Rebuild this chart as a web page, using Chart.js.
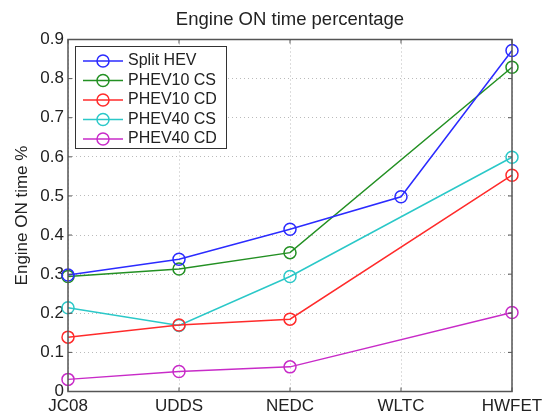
<!DOCTYPE html>
<html lang="en">
<head>
    <meta charset="UTF-8">
    <title>Engine ON time percentage</title>
    <script src="https://cdn.jsdelivr.net/npm/chart.js@4.4.0/dist/chart.umd.min.js"></script>
    <style>
        html, body { margin: 0; padding: 0; background: #fff; }
        #wrap { width: 552px; height: 417px; }
    </style>
</head>
<body>
    <div id="wrap"><canvas id="chart" width="552" height="417"></canvas></div>

    <script>
        // cycles on the x axis
        const cycles = ['JC08', 'UDDS', 'NEDC', 'WLTC', 'HWFET'];
        const yTickLabels = ['0', '0.1', '0.2', '0.3', '0.4', '0.5', '0.6', '0.7', '0.8', '0.9'];

        // engine ON fraction per vehicle (null = not tested)
        const splitHev  = [0.298, 0.338, 0.415, 0.498, 0.872];
        const phev10Cs  = [0.294, 0.313, 0.355, null, 0.829];
        const phev10Cd  = [0.139, 0.170, 0.185, null, 0.553];
        const phev40Cs  = [0.214, 0.169, 0.294, null, 0.599];
        const phev40Cd  = [0.031, 0.051, 0.063, null, 0.202];

        const seriesNames = ['Split HEV', 'PHEV10 CS', 'PHEV10 CD', 'PHEV40 CS', 'PHEV40 CD'];
        const seriesColors = ['#2b2bff', '#239023', '#ff2b2b', '#2bc8c8', '#c82bc8'];
        const seriesData = [splitHev, phev10Cs, phev10Cd, phev40Cs, phev40Cd];

        const chartTitle = 'Engine ON time percentage';
        const FONT = '"Liberation Sans", Arial, sans-serif';
        const AXIS_COLOR = '#555';

        // title centred over the plot area (not the whole canvas)
        const plotTitle = {
            id: 'plotTitle',
            afterDraw(chart) {
                const ctx = chart.ctx;
                const a = chart.chartArea;
                ctx.save();
                ctx.font = '18.5px ' + FONT;
                ctx.fillStyle = '#222';
                ctx.textAlign = 'center';
                ctx.textBaseline = 'middle';
                ctx.fillText(chartTitle, (a.left + a.right) / 2, 20);
                ctx.restore();
            }
        };

        // legend box drawn inside the plot, matlab style
        const boxLegend = {
            id: 'boxLegend',
            afterDatasetsDraw(chart) {
                const ctx = chart.ctx;
                const x0 = 75, y0 = 46, w = 151, h = 102;
                ctx.save();
                ctx.fillStyle = '#fff';
                ctx.fillRect(x0, y0, w, h);
                ctx.strokeStyle = '#333';
                ctx.lineWidth = 1;
                ctx.strokeRect(x0 + 0.5, y0 + 0.5, w, h);
                ctx.font = '16px ' + FONT;
                ctx.textBaseline = 'middle';
                seriesNames.forEach((name, i) => {
                    const y = 61 + i * 19.5;
                    ctx.strokeStyle = seriesColors[i];
                    ctx.lineWidth = 1.5;
                    ctx.beginPath();
                    ctx.moveTo(83, y);
                    ctx.lineTo(123, y);
                    ctx.stroke();
                    ctx.beginPath();
                    ctx.arc(103, y, 6, 0, Math.PI * 2);
                    ctx.stroke();
                    ctx.fillStyle = '#222';
                    ctx.fillText(name, 128, y);
                });
                ctx.restore();
            }
        };

        // closed axis frame with inward ticks
        const axisFrame = {
            id: 'axisFrame',
            afterDraw(chart) {
                const ctx = chart.ctx;
                const a = chart.chartArea;
                const xs = chart.scales.x, ys = chart.scales.y;
                ctx.save();
                ctx.strokeStyle = AXIS_COLOR;
                ctx.lineWidth = 1.5;
                ctx.strokeRect(a.left, a.top, a.right - a.left, a.bottom - a.top);
                ctx.lineWidth = 1;
                ctx.beginPath();
                cycles.forEach((c, i) => {
                    const x = xs.getPixelForValue(i);
                    ctx.moveTo(x, a.bottom); ctx.lineTo(x, a.bottom - 4);
                    ctx.moveTo(x, a.top); ctx.lineTo(x, a.top + 4);
                });
                yTickLabels.forEach(t => {
                    const y = ys.getPixelForValue(parseFloat(t));
                    ctx.moveTo(a.left, y); ctx.lineTo(a.left + 4, y);
                    ctx.moveTo(a.right, y); ctx.lineTo(a.right - 4, y);
                });
                ctx.stroke();
                ctx.restore();
            }
        };

        const datasets = seriesNames.map((name, i) => ({
            label: name,
            data: seriesData[i],
            borderColor: seriesColors[i],
            backgroundColor: 'rgba(0,0,0,0)',
            borderWidth: 1.5,
            pointStyle: 'circle',
            pointRadius: 6,
            pointBorderWidth: 1.5,
            pointBackgroundColor: 'rgba(0,0,0,0)',
            pointBorderColor: seriesColors[i],
            spanGaps: true,
            tension: 0
        }));

        new Chart(document.getElementById('chart'), {
            type: 'line',
            data: { labels: cycles, datasets: datasets },
            plugins: [boxLegend, axisFrame, plotTitle],
            options: {
                responsive: false,
                animation: false,
                layout: { padding: { left: 0, right: 40, top: 39.5, bottom: 0 } },
                plugins: {
                    legend: { display: false },
                    tooltip: { enabled: false },
                    title: { display: false }
                },
                scales: {
                    x: {
                        offset: false,
                        grid: { offset: false, color: '#bbb', drawTicks: false },
                        border: { display: false, dash: [1, 3] },
                        ticks: {
                            color: '#222',
                            font: { family: FONT, size: 17 },
                            padding: 5,
                            maxRotation: 0,
                            autoSkip: false
                        },
                        afterFit(scale) { scale.height = 25.5; }
                    },
                    y: {
                        min: 0,
                        max: 0.9,
                        grid: { color: '#bbb', drawTicks: false },
                        border: { display: false, dash: [1, 3] },
                        ticks: {
                            stepSize: 0.1,
                            color: '#222',
                            font: { family: FONT, size: 17 },
                            padding: 4,
                            callback: (v, i) => yTickLabels[i]
                        },
                        title: {
                            display: true,
                            text: 'Engine ON time %',
                            color: '#222',
                            font: { family: FONT, size: 17 },
                            padding: { top: 12, bottom: 0 }
                        },
                        afterFit(scale) { scale.width = 68; }
                    }
                }
            }
        });
    </script>
</body>
</html>
